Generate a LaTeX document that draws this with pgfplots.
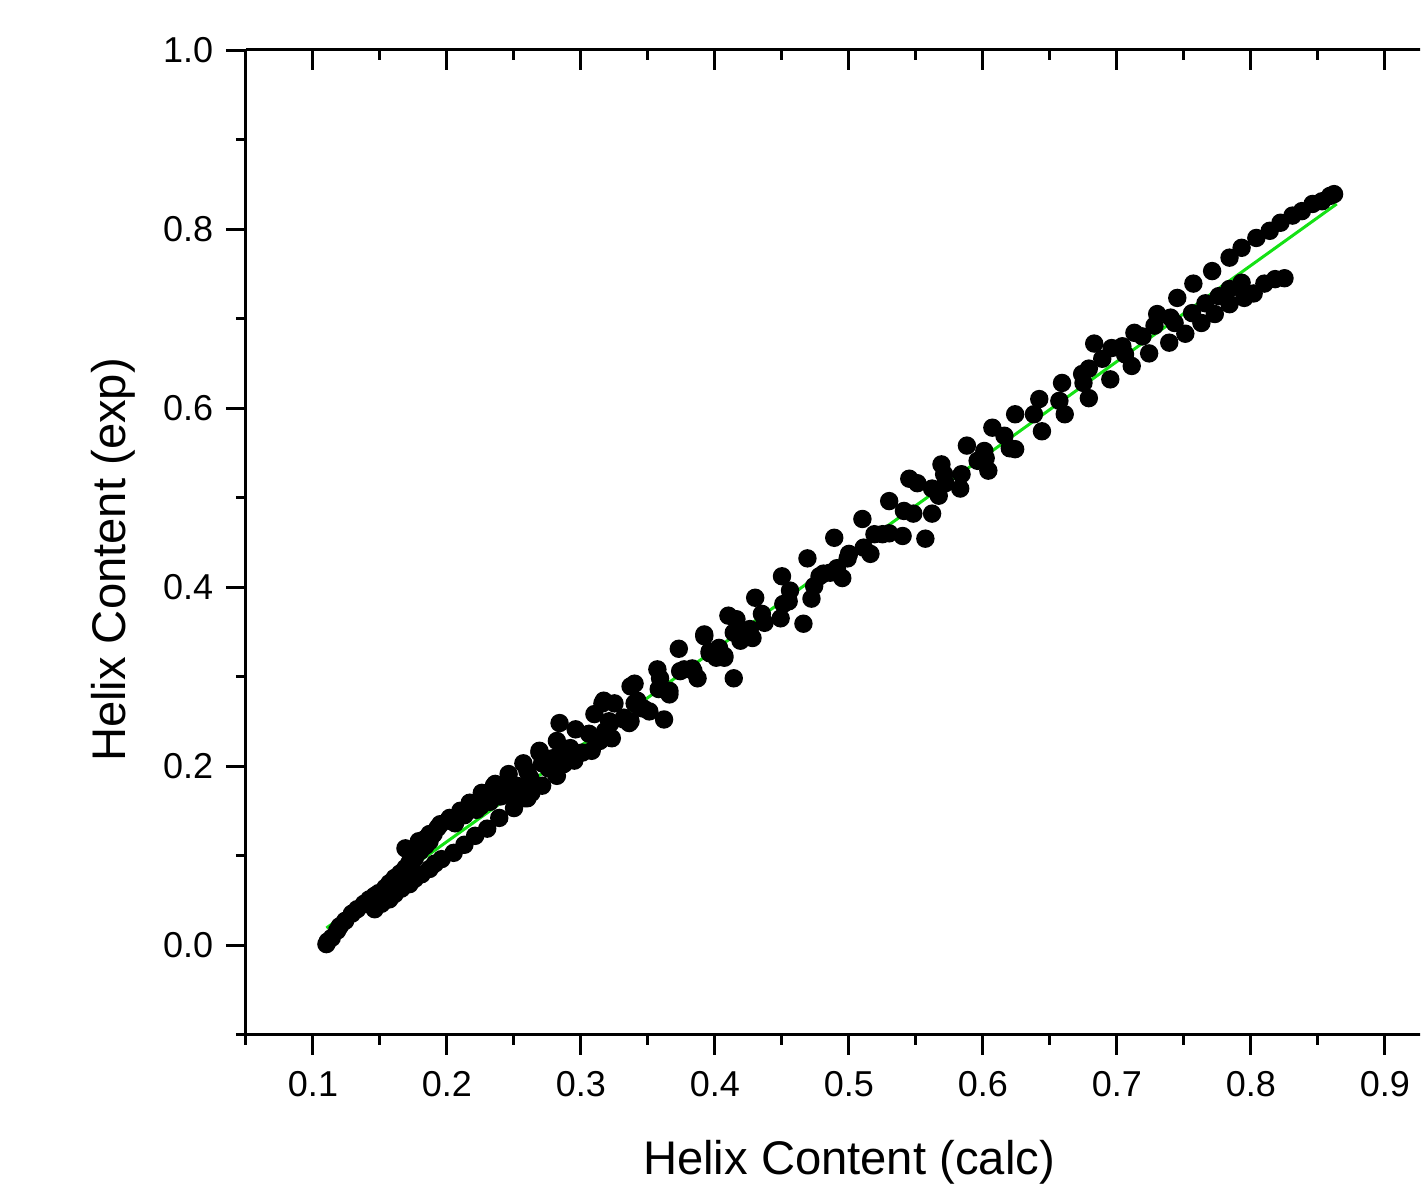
\documentclass[border=0pt]{standalone}
\usepackage{fontspec}
\setmainfont{Liberation Sans}
\usepackage{pgfplots}
\pgfplotsset{compat=1.18}
\definecolor{fitgreen}{RGB}{20,225,20}

\begin{document}
\begin{tikzpicture}
\pgfplotsset{
  common/.style={
    scale only axis, width=301.5pt, height=246.125pt,
    at={(0,0)}, anchor=south west,
    xmin=0.05, xmax=0.95, ymin=-0.1, ymax=1.0,
    axis line style={-, line width=0.75pt},
    x axis line style={-}, y axis line style={-},
    every tick/.style={black, line width=0.75pt},
    major tick length=5pt, minor tick length=2.5pt,
    xtick={0.1,0.2,...,0.9},
    minor xtick={0.05,0.15,...,0.95},
  },
}
\begin{scope}
\clip (-61.5pt,-37.75pt) rectangle (293.5pt,258.625pt);
\begin{axis}[common,
  axis x line*=bottom, axis y line*=left,
  ytick={0,0.2,...,1.0},
  minor ytick={-0.1,0.1,0.3,0.5,0.7,0.9},
  tick align=outside,
  /pgf/number format/assume math mode=true,
  /pgf/number format/.cd, fixed, fixed zerofill, precision=1, /tikz/.cd,
  tick label style={font=\fontsize{9}{10}\selectfont},
  xticklabel style={yshift=-0.75pt},
  yticklabel style={xshift=0.3pt},
  xlabel={Helix Content (calc)},
  ylabel={Helix Content (exp)},
  every axis x label/.style={at={(axis description cs:0.5,0)}, anchor=center,
    yshift=-32pt, font=\fontsize{11.8}{13}\selectfont},
  every axis y label/.style={at={(axis description cs:0,0.482)}, anchor=center,
    rotate=90, yshift=33.25pt, font=\fontsize{11.8}{13}\selectfont},
]
\addplot[only marks, mark=*, mark size=2.1pt, black] coordinates {
(0.110,0.001) (0.111,0.004) (0.114,0.008) (0.118,0.016) (0.120,0.021) (0.124,0.027)
(0.129,0.035) (0.133,0.040) (0.138,0.046) (0.142,0.051) (0.146,0.055) (0.149,0.058)
(0.154,0.064) (0.157,0.069) (0.161,0.075) (0.165,0.080) (0.169,0.086) (0.172,0.092)
(0.176,0.097) (0.180,0.105) (0.184,0.111) (0.187,0.116)
(0.169,0.108) (0.179,0.116) (0.183,0.118) (0.187,0.124) (0.190,0.124) (0.193,0.131)
(0.195,0.135) (0.201,0.139) (0.202,0.142) (0.206,0.136) (0.210,0.150) (0.210,0.147)
(0.213,0.145) (0.217,0.159) (0.217,0.158) (0.219,0.155) (0.222,0.151) (0.225,0.155)
(0.226,0.170) (0.228,0.163) (0.232,0.160) (0.235,0.178) (0.236,0.180) (0.237,0.170)
(0.240,0.166) (0.245,0.172) (0.246,0.191) (0.247,0.181) (0.250,0.164) (0.252,0.178)
(0.257,0.203) (0.258,0.164) (0.260,0.194) (0.262,0.187) (0.263,0.170) (0.269,0.215)
(0.271,0.203) (0.276,0.197) (0.280,0.209) (0.287,0.213)
(0.146,0.040) (0.151,0.046) (0.157,0.051) (0.161,0.057) (0.166,0.063) (0.172,0.068)
(0.176,0.074) (0.181,0.079) (0.187,0.085) (0.191,0.091) (0.196,0.096) (0.205,0.103)
(0.213,0.112) (0.221,0.122) (0.230,0.130) (0.239,0.142) (0.250,0.153) (0.260,0.164)
(0.271,0.178) (0.282,0.189)
(0.269,0.217) (0.276,0.208) (0.282,0.228) (0.284,0.248) (0.287,0.202) (0.292,0.220)
(0.295,0.206) (0.296,0.241) (0.301,0.215) (0.306,0.236) (0.308,0.217) (0.310,0.258)
(0.314,0.228) (0.316,0.270) (0.317,0.273) (0.318,0.239) (0.321,0.250) (0.322,0.248)
(0.323,0.231) (0.325,0.270) (0.332,0.252) (0.332,0.254) (0.336,0.248) (0.337,0.250)
(0.337,0.289) (0.340,0.292) (0.340,0.270) (0.342,0.273) (0.344,0.265) (0.347,0.264)
(0.351,0.261) (0.357,0.308) (0.358,0.286) (0.359,0.298) (0.362,0.252) (0.366,0.284)
(0.366,0.280) (0.373,0.331) (0.374,0.306) (0.377,0.308) (0.383,0.309) (0.384,0.306)
(0.387,0.298) (0.392,0.347) (0.392,0.345) (0.396,0.326) (0.396,0.328) (0.401,0.321)
(0.403,0.328) (0.403,0.332) (0.407,0.321) (0.407,0.323) (0.410,0.368) (0.414,0.349)
(0.414,0.298) (0.416,0.364) (0.419,0.340) (0.426,0.353) (0.428,0.343) (0.430,0.388)
(0.435,0.370) (0.437,0.360) (0.449,0.365) (0.450,0.412) (0.451,0.381) (0.455,0.384)
(0.456,0.396) (0.466,0.359) (0.469,0.432) (0.472,0.387) (0.474,0.401) (0.478,0.412)
(0.481,0.415) (0.486,0.416) (0.489,0.455) (0.491,0.421) (0.495,0.410) (0.499,0.432)
(0.500,0.437) (0.510,0.476) (0.511,0.444) (0.516,0.437) (0.519,0.459) (0.525,0.459)
(0.530,0.496) (0.530,0.460) (0.540,0.457) (0.541,0.485) (0.545,0.521) (0.548,0.482)
(0.551,0.516) (0.557,0.454) (0.562,0.482) (0.562,0.510) (0.567,0.502) (0.569,0.537)
(0.571,0.526) (0.572,0.516) (0.583,0.510) (0.584,0.526) (0.588,0.558) (0.596,0.541)
(0.601,0.552) (0.602,0.544) (0.604,0.530) (0.607,0.578) (0.616,0.569) (0.620,0.555)
(0.624,0.554) (0.624,0.593) (0.638,0.593) (0.642,0.610) (0.644,0.574) (0.657,0.608)
(0.659,0.628) (0.661,0.593) (0.674,0.638) (0.675,0.628) (0.679,0.611) (0.679,0.644)
(0.683,0.672) (0.689,0.655) (0.695,0.632) (0.696,0.667) (0.704,0.669) (0.706,0.660)
(0.711,0.647) (0.713,0.684) (0.719,0.680) (0.724,0.661)
(0.728,0.692) (0.730,0.705) (0.740,0.701) (0.745,0.723) (0.743,0.695) (0.751,0.683)
(0.739,0.673) (0.757,0.739) (0.756,0.706) (0.763,0.695) (0.766,0.717) (0.771,0.753)
(0.773,0.705) (0.776,0.725) (0.784,0.768) (0.784,0.733) (0.784,0.716) (0.793,0.740)
(0.793,0.779) (0.795,0.723) (0.802,0.728) (0.804,0.790) (0.810,0.739) (0.814,0.798)
(0.818,0.744) (0.822,0.807) (0.825,0.745) (0.831,0.815) (0.838,0.820) (0.846,0.828)
(0.853,0.831) (0.859,0.837) (0.862,0.839)
};
\addplot[fitgreen, line width=0.75pt] coordinates {(0.110,0.019) (0.864,0.828)};
\end{axis}
% top axis: ticks point inward
\begin{axis}[common,
  axis x line*=top, axis y line=none,
  tick align=inside, xticklabels={},
]
\end{axis}
\end{scope}
\pgfresetboundingbox
\path[use as bounding box] (-61.5pt,-37.75pt) rectangle (294.25pt,258.625pt);
\end{tikzpicture}
\end{document}
